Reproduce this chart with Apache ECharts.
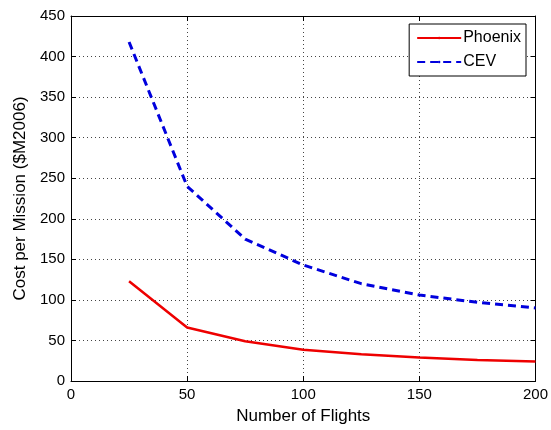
<!DOCTYPE html>
<html><head><meta charset="utf-8">
<script src="https://cdn.jsdelivr.net/npm/echarts@6/dist/echarts.min.js"></script>
<style>html,body{margin:0;padding:0;background:#fff}#c{width:551px;height:430px}</style>
</head><body><div id="c"></div>
<script>
var flights = [25, 50, 75, 100, 125, 150, 175, 200];
var phoenix = [123, 66, 49, 38.5, 33, 29, 26, 24];
var cev = [418, 240, 175, 143, 120, 106, 97, 90];
var xTicks = [0, 50, 100, 150, 200];
var yTicks = [0, 50, 100, 150, 200, 250, 300, 350, 400, 450];

var font = 'Liberation Sans, Arial, sans-serif';
function pairs(xs, ys){ return xs.map(function(x,i){return [x, ys[i]];}); }
var chart = echarts.init(document.getElementById('c'));
var baseAxis = {
  axisLine:{show:true, onZero:false, lineStyle:{color:'#000', width:1}},
  axisTick:{show:true, inside:true, length:5, lineStyle:{color:'#000'}},
  splitLine:{show:false}
};
chart.setOption({
  animation:false,
  backgroundColor:'#fff',
  grid:{left:71, right:15, top:16, bottom:48, show:false},
  legend:{
    right:25, top:24, orient:'vertical', itemWidth:44, itemHeight:3, itemGap:8,
    backgroundColor:'#fff', borderColor:'#000', borderWidth:1, borderRadius:0,
    padding:[6,5,6,7],
    textStyle:{fontFamily:font, fontSize:16, color:'#000', padding:[0,0,0,-3]},
    data:[{name:'Phoenix'},{name:'CEV'}]
  },
  xAxis:[
    Object.assign({}, baseAxis, {type:'value', min:0, max:200, interval:50, position:'bottom',
      axisLabel:{fontFamily:font, fontSize:15, color:'#000', margin:6},
      name:'Number of Flights', nameLocation:'middle', nameGap:27,
      nameTextStyle:{fontFamily:font, fontSize:17, color:'#000'},
      splitLine:{show:true, lineStyle:{color:'#444', type:[1,3], width:1}}}),
    Object.assign({}, baseAxis, {type:'value', min:0, max:200, interval:50, position:'top',
      axisLabel:{show:false}})
  ],
  yAxis:[
    Object.assign({}, baseAxis, {type:'value', min:0, max:450, interval:50, position:'left',
      axisLabel:{fontFamily:font, fontSize:15, color:'#000', margin:6},
      name:'Cost per Mission ($M2006)', nameLocation:'middle', nameGap:42,
      nameTextStyle:{fontFamily:font, fontSize:17, color:'#000'},
      splitLine:{show:true, lineStyle:{color:'#444', type:[1,3], width:1}}}),
    Object.assign({}, baseAxis, {type:'value', min:0, max:450, interval:50, position:'right',
      axisLabel:{show:false}})
  ],
  series:[
    {name:'Phoenix', type:'line', data:pairs(flights, phoenix), symbol:'none', smooth:false,
      lineStyle:{color:'#ee0000', width:2.5}, itemStyle:{color:'#ee0000'}},
    {name:'CEV', type:'line', data:pairs(flights, cev), symbol:'none', smooth:false,
      lineStyle:{color:'#0000dd', width:3, type:[8,5]}, itemStyle:{color:'#0000dd'}}
  ]
});
</script></body></html>
